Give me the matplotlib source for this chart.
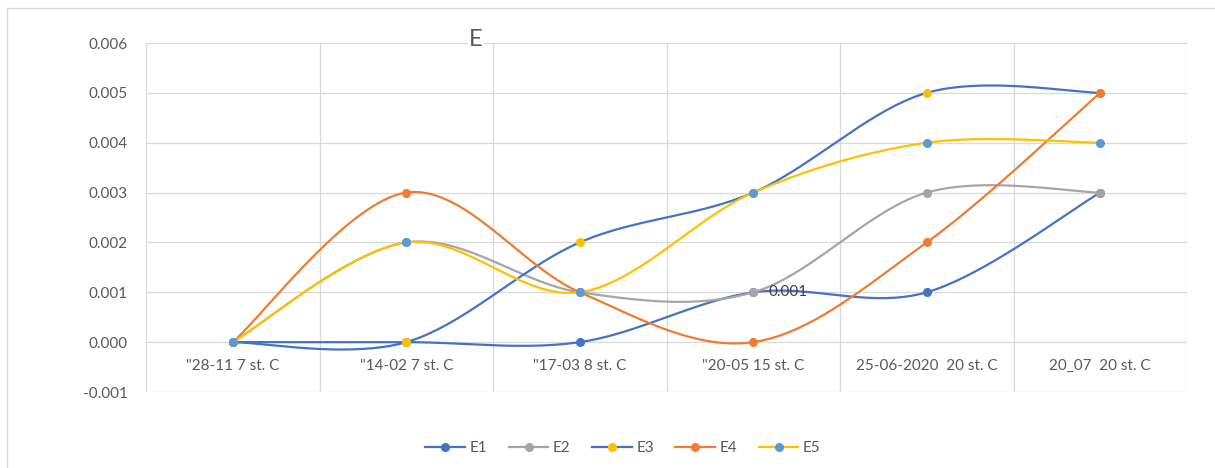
import numpy as np
import matplotlib
matplotlib.use("Agg")
import matplotlib.pyplot as plt
from matplotlib.lines import Line2D

# Category labels and strain series
categories = ['"28-11 7 st. C', '"14-02 7 st. C', '"17-03 8 st. C',
              '"20-05 15 st. C', '25-06-2020  20 st. C', '20_07  20 st. C']
e1 = [0.000, 0.000, 0.000, 0.001, 0.001, 0.003]
e2 = [0.000, 0.002, 0.001, 0.001, 0.003, 0.003]
e3 = [0.000, 0.000, 0.002, 0.003, 0.005, 0.005]
e4 = [0.000, 0.003, 0.001, 0.000, 0.002, 0.005]
e5 = [0.000, 0.002, 0.001, 0.003, 0.004, 0.004]
series_names = ["E1", "E2", "E3", "E4", "E5"]
y_ticks = [-0.001, 0.000, 0.001, 0.002, 0.003, 0.004, 0.005, 0.006]

# (line colour, marker colour) per series
styles = [("#4472C4", "#4472C4"), ("#A5A5A5", "#A5A5A5"), ("#4472C4", "#FFC000"),
          ("#ED7D31", "#ED7D31"), ("#FFC000", "#5B9BD5")]

FONT = "Lato"
TXT = "#595959"


def smooth(xs, ys, n=40):
    """Cubic Bezier smoothing through every point (Catmull-Rom style)."""
    pts = np.column_stack([xs, ys]).astype(float)
    m = len(pts)
    out = []
    for i in range(m - 1):
        p0 = pts[i]
        p3 = pts[i + 1]
        prev = pts[i - 1] if i > 0 else pts[i]
        nxt = pts[i + 2] if i + 2 < m else pts[i + 1]
        c1 = p0 + (p3 - prev) / 6.0
        c2 = p3 - (nxt - p0) / 6.0
        t = np.linspace(0, 1, n)[:, None]
        seg = ((1 - t) ** 3) * p0 + 3 * ((1 - t) ** 2) * t * c1 \
            + 3 * (1 - t) * t ** 2 * c2 + t ** 3 * p3
        out.append(seg if i == 0 else seg[1:])
    s = np.vstack(out)
    return s[:, 0], s[:, 1]


W, H = 1215, 468
fig = plt.figure(figsize=(W / 100, H / 100), dpi=100)
fig.patch.set_facecolor("white")

# chart-area frame
fig.add_artist(Line2D([7 / W, 1.0], [1 - 8 / H, 1 - 8 / H], color="#D9D9D9", lw=1.0))
fig.add_artist(Line2D([7 / W, 7 / W], [0.0, 1 - 8 / H], color="#D9D9D9", lw=1.0))

left, right, top, bottom = 146, 1187, 43, 392
ax = fig.add_axes([left / W, 1 - bottom / H, (right - left) / W, (bottom - top) / H])

x = np.arange(len(categories))
ax.set_xlim(-0.5, len(categories) - 0.5)
ax.set_ylim(-0.001, 0.006)

for s in ax.spines.values():
    s.set_visible(False)

# gridlines
for yv in y_ticks:
    ax.axhline(yv, color="#D9D9D9", lw=0.9, zorder=0)
for xv in np.arange(-0.5, len(categories), 1.0):
    ax.axvline(xv, color="#D9D9D9", lw=0.9, zorder=0)

ax.set_xticks([])
ax.set_yticks(y_ticks)
ax.set_yticklabels([f"{v:.3f}" for v in y_ticks], fontfamily=FONT, fontsize=11, color=TXT)
ax.tick_params(axis="y", length=0, pad=13)

# category labels sit just below the zero line
for xi, lab in zip(x, categories):
    ax.annotate(lab, (xi, 0.0), xytext=(0, -17), textcoords="offset points",
                ha="center", va="center", fontfamily=FONT, fontsize=11, color=TXT)

handles = []
for name, ys, (lc, mc) in zip(series_names, [e1, e2, e3, e4, e5], styles):
    sx, sy = smooth(x, ys)
    ax.plot(sx, sy, color=lc, lw=1.6, solid_capstyle="round", zorder=2)
    ax.plot(x, ys, ls="none", marker="o", ms=5.5, mfc=mc, mec=mc, zorder=2)
    handles.append(Line2D([], [], color=lc, lw=1.6, marker="o", ms=5.5, mfc=mc, mec=mc,
                          label=name))

# value label on E1 at the fourth category
ax.annotate(f"{e1[3]:.3f}", (x[3], e1[3]), xytext=(11, 0), textcoords="offset points",
            ha="left", va="center", fontfamily=FONT, fontsize=11, color="#404040", zorder=5)

# title
fig.text(476 / W, 1 - 40 / H, "E", ha="center", va="center", fontfamily=FONT,
         fontsize=17, color=TXT,
         bbox=dict(facecolor="white", edgecolor="none", pad=0.5))

fig.legend(handles=handles, loc="center", bbox_to_anchor=(623 / W, 1 - 448 / H),
           ncol=5, frameon=False, handlelength=2.6, columnspacing=1.4, handletextpad=0.3,
           prop={"family": FONT, "size": 11}, labelcolor=TXT)

fig.savefig("out.png", dpi=100, facecolor="white")
